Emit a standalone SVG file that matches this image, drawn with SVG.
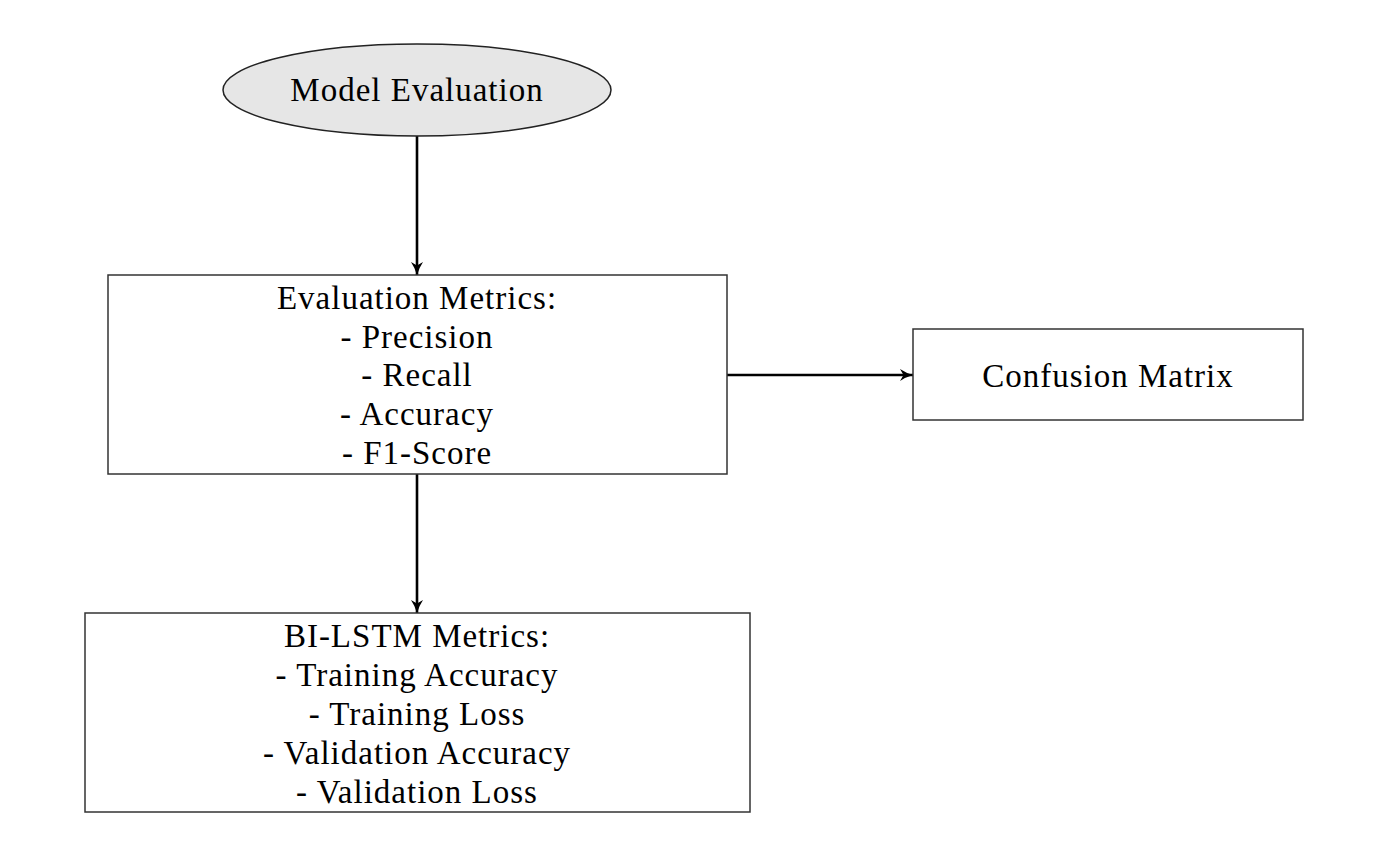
<svg xmlns="http://www.w3.org/2000/svg" width="1392" height="866" viewBox="0 0 1392 866">
  <style>
    .box { fill: #ffffff; stroke: #333333; stroke-width: 1.5; }
    .ell { fill: #e6e6e6; stroke: #222222; stroke-width: 1.5; }
    .lbl { font-family: "Liberation Serif", "DejaVu Serif", serif; font-size: 33px; letter-spacing: 1px; fill: #000000; text-anchor: middle; }
    .edge { stroke: #000000; stroke-width: 2.6; fill: none; marker-end: url(#arr); }
  </style>
  <defs>
    <marker id="arr" markerUnits="userSpaceOnUse" markerWidth="16" markerHeight="16" refX="13" refY="8" orient="auto">
      <path d="M0,2 Q6,6 13,8 Q6,10 0,14 L3.5,8 z" fill="#000000"/>
    </marker>
  </defs>
  <rect x="0" y="0" width="1392" height="866" fill="#ffffff"/>

  <g id="connectors">
    <line class="edge" x1="417" y1="136" x2="417" y2="275"/>
    <line class="edge" x1="727" y1="375" x2="913" y2="375"/>
    <line class="edge" x1="417" y1="474" x2="417" y2="613"/>
  </g>

  <g id="node-model-evaluation">
    <ellipse class="ell" cx="417" cy="90" rx="194" ry="46"/>
    <text class="lbl" x="417" y="101">Model Evaluation</text>
  </g>

  <g id="node-evaluation-metrics">
    <rect class="box" x="108" y="275" width="619" height="199"/>
    <text class="lbl" x="417" y="309">Evaluation Metrics:</text>
    <text class="lbl" x="417" y="348">- Precision</text>
    <text class="lbl" x="417" y="386">- Recall</text>
    <text class="lbl" x="417" y="425">- Accuracy</text>
    <text class="lbl" x="417" y="464">- F1-Score</text>
  </g>

  <g id="node-confusion-matrix">
    <rect class="box" x="913" y="329" width="390" height="91"/>
    <text class="lbl" x="1108" y="387">Confusion Matrix</text>
  </g>

  <g id="node-bilstm-metrics">
    <rect class="box" x="85" y="613" width="665" height="199"/>
    <text class="lbl" x="417" y="647">BI-LSTM Metrics:</text>
    <text class="lbl" x="417" y="686">- Training Accuracy</text>
    <text class="lbl" x="417" y="725">- Training Loss</text>
    <text class="lbl" x="417" y="764">- Validation Accuracy</text>
    <text class="lbl" x="417" y="803">- Validation Loss</text>
  </g>
</svg>
